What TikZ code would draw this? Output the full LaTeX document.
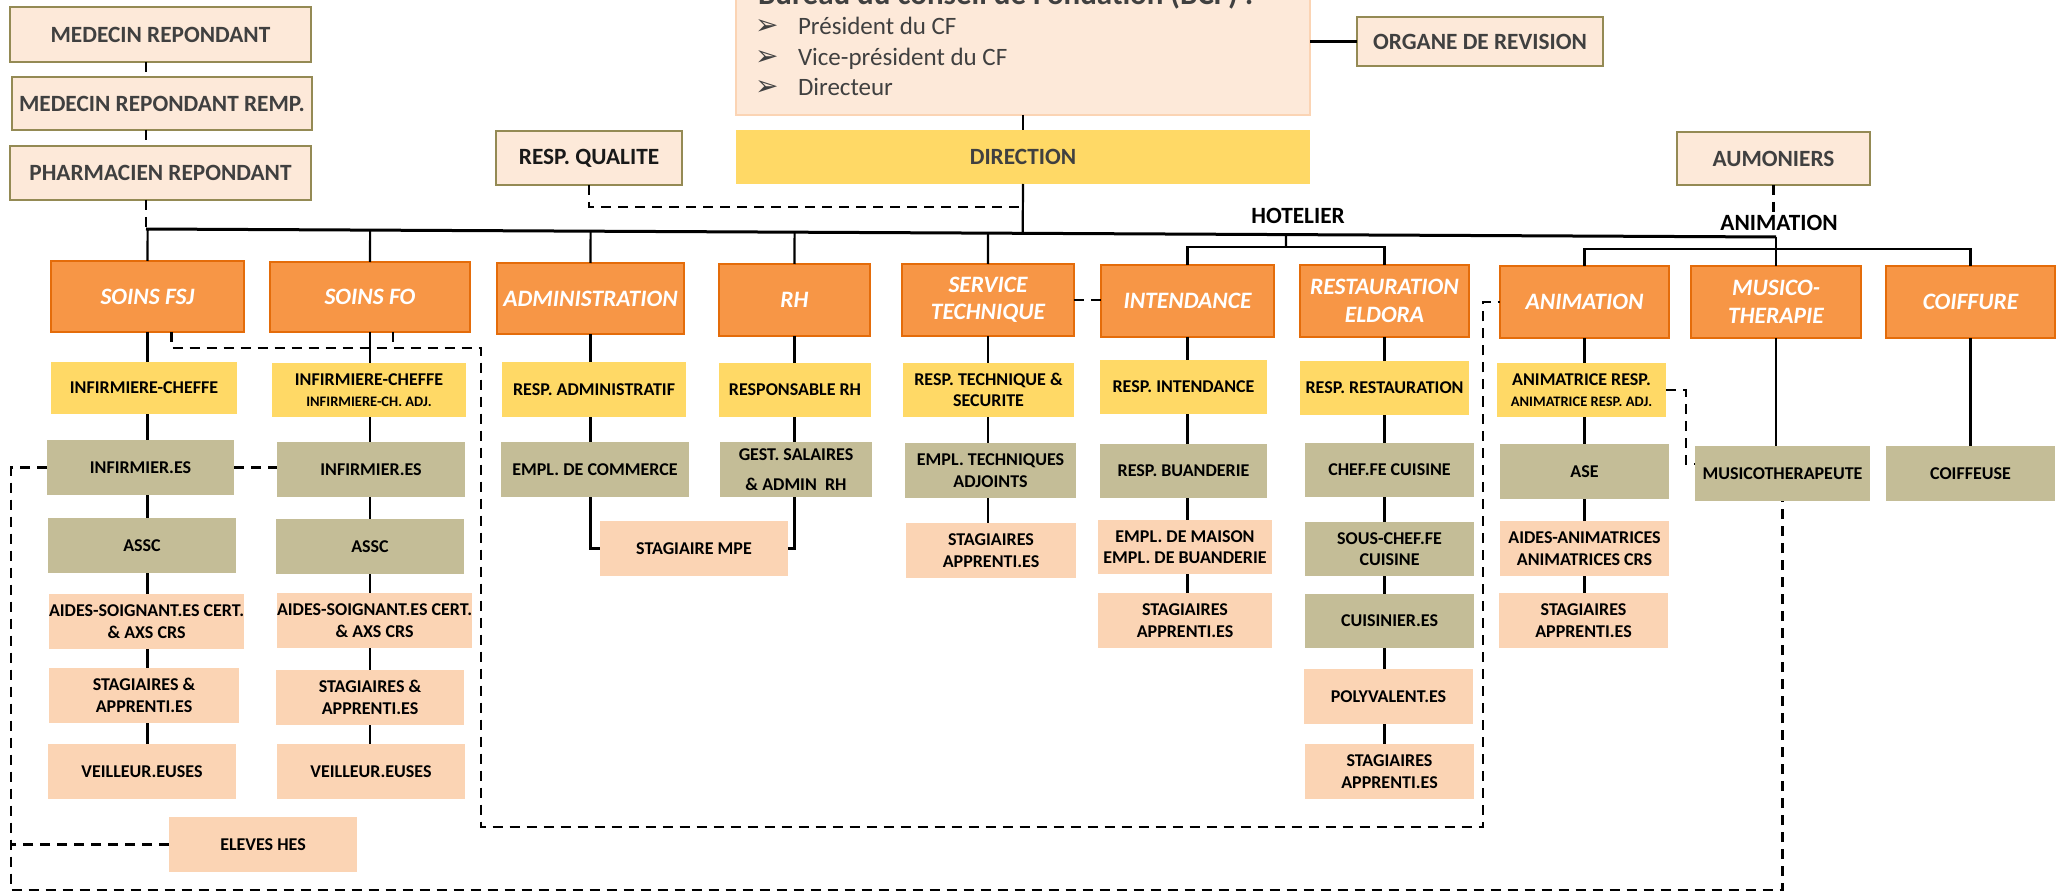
\documentclass[tikz,border=0pt]{standalone}
\usepackage{fontspec}
\setmainfont{Carlito}
\newfontfamily\dejavu{DejaVu Sans}
\usetikzlibrary{calc}
\definecolor{orfill}{HTML}{F79646}
\definecolor{ordraw}{HTML}{E46C0A}
\definecolor{ylw}{HTML}{FFD966}
\definecolor{khaki}{HTML}{C4BD97}
\definecolor{peach}{HTML}{FBD4B4}
\definecolor{pale}{HTML}{FDE9D9}
\definecolor{olive}{HTML}{948A54}
\definecolor{dgray}{HTML}{404040}
\newcommand{\fntO}{\fontsize{23.5}{27.5}\selectfont\bfseries\itshape}
\newcommand{\fntT}{\fontsize{23.3}{27}\selectfont\bfseries}
\newcommand{\fntS}{\fontsize{18}{21.5}\selectfont\bfseries}
\newcommand{\fntXS}{\fontsize{14.5}{17}\selectfont\bfseries}
\newcommand{\fntB}{\fontsize{25}{29}\selectfont}
\newcommand{\fntTitle}{\fontsize{31}{36}\selectfont\bfseries}
\newcommand{\orgbox}[7]{\node[#2,anchor=north west,minimum width={(#5)-(#3)},minimum height={(#6)-(#4)}] (#1) at (#3,#4) {#7};}
\begin{document}
\begin{tikzpicture}[x=1pt,y=-1pt,
  every node/.style={inner sep=0pt,outer sep=0pt,align=center},
  topbox/.style={fill=pale,draw=olive,line width=2.5pt,font=\fntT,text=dgray},
  orbox/.style={fill=orfill,draw=ordraw,line width=2.5pt,font=\fntO,text=white},
  ybox/.style={fill=ylw,font=\fntS,text=black},
  kbox/.style={fill=khaki,font=\fntS,text=black},
  pbox/.style={fill=peach,font=\fntS,text=black},
  lbl/.style={font=\fntT,text=black,inner sep=1pt},
  bullet/.style={anchor=base west,font=\dejavu\fontsize{28}{30}\selectfont,text=dgray},
  btext/.style={anchor=base west,font=\fntB,text=dgray},
  conn/.style={line width=2.2pt,black},
  barline/.style={line width=3pt,black},
  dsh/.style={line width=2.5pt,black,dash pattern=on 10pt off 7pt}]
\useasboundingbox (0,0) rectangle (2062,893);
\fill[white] (0,0) rectangle (2062,893);
% top
\orgbox{mr}{topbox}{10}{7}{311}{62}{MEDECIN REPONDANT}
\orgbox{mrr}{topbox}{12}{77}{312}{130}{MEDECIN REPONDANT REMP.}
\orgbox{pr}{topbox}{10}{146}{311}{200}{PHARMACIEN REPONDANT}
\orgbox{rq}{topbox,text=black!90}{496}{131}{682}{185}{RESP. QUALITE}
\orgbox{org}{topbox}{1357}{17}{1603}{66}{ORGANE DE REVISION}
\orgbox{aum}{topbox}{1677}{132}{1870}{185}{AUMONIERS}
\orgbox{bcf}{fill=pale,draw=peach,line width=2pt}{736}{-12}{1310}{115}{}
\node[anchor=base west,font=\fntTitle,text=dgray] (bcft) at (758,5) {Bureau du conseil de Fondation (BCF) :};
\node[btext] (bl1) at (798,35) {Président du CF};
\node[btext] (bl2) at (798,66) {Vice-président du CF};
\node[btext] (bl3) at (798,96) {Directeur};
\node[bullet] (bu1) at (755,35) {➢};
\node[bullet] (bu2) at (755,66) {➢};
\node[bullet] (bu3) at (755,96) {➢};
\orgbox{dir}{fill=ylw,font=\fntT,text=dgray}{736}{130}{1310}{184}{DIRECTION}
% orange row
\orgbox{fsj}{orbox}{51}{261}{244}{332}{SOINS FSJ}
\orgbox{fo}{orbox}{270}{262}{470}{332}{SOINS FO}
\orgbox{adm}{orbox}{497}{263}{684}{334}{ADMINISTRATION}
\orgbox{rh}{orbox}{719}{264}{870}{336}{RH}
\orgbox{st}{orbox}{902}{264}{1074}{336}{SERVICE\\TECHNIQUE}
\orgbox{int}{orbox}{1101}{265}{1274}{337}{INTENDANCE}
\orgbox{rest}{orbox}{1300}{265}{1469}{337}{RESTAURATION\\ELDORA}
\orgbox{anim}{orbox}{1500}{266}{1669}{338}{ANIMATION}
\orgbox{mus}{orbox}{1691}{266}{1861}{338}{MUSICO-\\THERAPIE}
\orgbox{coif}{orbox}{1886}{266}{2055}{338}{COIFFURE}
% yellow row
\orgbox{ic1}{ybox}{51}{362}{237}{414}{INFIRMIERE-CHEFFE}
\orgbox{ic2}{ybox}{272}{363}{466}{417}{INFIRMIERE-CHEFFE\\{\fntXS INFIRMIERE-CH. ADJ.}}
\orgbox{ra}{ybox}{502}{362}{686}{417}{RESP. ADMINISTRATIF}
\orgbox{rrh}{ybox}{719}{363}{871}{417}{RESPONSABLE RH}
\orgbox{rts}{ybox}{903}{363}{1074}{417}{RESP. TECHNIQUE \&\\SECURITE}
\orgbox{ri}{ybox}{1100}{360}{1267}{414}{RESP. INTENDANCE}
\orgbox{rr}{ybox}{1300}{361}{1469}{415}{RESP. RESTAURATION}
\orgbox{ar}{ybox}{1497}{363}{1666}{417}{ANIMATRICE RESP.\\{\fntXS ANIMATRICE RESP. ADJ.}}
% khaki row
\orgbox{inf1}{kbox}{47}{440}{234}{495}{INFIRMIER.ES}
\orgbox{inf2}{kbox}{277}{442}{465}{497}{INFIRMIER.ES}
\orgbox{ec}{kbox}{501}{442}{689}{497}{EMPL. DE COMMERCE}
\orgbox{gs}{kbox}{720}{442}{872}{497}{GEST. SALAIRES\\[9pt]\& ADMIN~~RH}
\orgbox{eta}{kbox}{905}{443}{1076}{498}{EMPL. TECHNIQUES\\ADJOINTS}
\orgbox{rb}{kbox}{1100}{444}{1267}{498}{RESP. BUANDERIE}
\orgbox{cc}{kbox}{1305}{443}{1474}{497}{CHEF.FE CUISINE}
\orgbox{ase}{kbox}{1500}{444}{1669}{499}{ASE}
\orgbox{mt}{kbox}{1695}{446}{1870}{501}{MUSICOTHERAPEUTE}
\orgbox{cf}{kbox}{1886}{446}{2055}{501}{COIFFEUSE}
% row 4
\orgbox{assc1}{kbox}{48}{518}{236}{573}{ASSC}
\orgbox{assc2}{kbox}{276}{519}{464}{574}{ASSC}
\orgbox{mpe}{pbox}{600}{521}{788}{576}{STAGIAIRE MPE}
\orgbox{sta1}{pbox}{906}{523}{1076}{578}{STAGIAIRES\\APPRENTI.ES}
\orgbox{em}{pbox}{1098}{520}{1272}{574}{EMPL. DE MAISON\\EMPL. DE BUANDERIE}
\orgbox{scc}{kbox}{1305}{522}{1474}{576}{SOUS-CHEF.FE\\CUISINE}
\orgbox{aa}{pbox}{1500}{521}{1669}{576}{AIDES-ANIMATRICES\\ANIMATRICES CRS}
% row 5
\orgbox{as1}{pbox}{49}{594}{239}{649}{AIDES-SOIGNANT.ES CERT.\\\& AXS CRS}
\orgbox{as2}{pbox}{277}{593}{465}{648}{AIDES-SOIGNANT.ES CERT.\\\& AXS CRS}
\orgbox{sta2}{pbox}{1098}{593}{1272}{648}{STAGIAIRES\\APPRENTI.ES}
\orgbox{cu}{kbox}{1305}{594}{1474}{648}{CUISINIER.ES}
\orgbox{sta3}{pbox}{1499}{593}{1668}{648}{STAGIAIRES\\APPRENTI.ES}
% row 6
\orgbox{sa1}{pbox}{49}{668}{239}{723}{STAGIAIRES \&\\APPRENTI.ES}
\orgbox{sa2}{pbox}{276}{670}{464}{725}{STAGIAIRES \&\\APPRENTI.ES}
\orgbox{pv}{pbox}{1304}{669}{1473}{724}{POLYVALENT.ES}
% row 7
\orgbox{v1}{pbox}{48}{744}{236}{799}{VEILLEUR.EUSES}
\orgbox{v2}{pbox}{277}{744}{465}{799}{VEILLEUR.EUSES}
\orgbox{sta4}{pbox}{1305}{744}{1474}{799}{STAGIAIRES\\APPRENTI.ES}
\orgbox{eh}{pbox}{169}{817}{357}{872}{ELEVES HES}
% labels
\node[lbl] (hotlbl) at (1298,216) {HOTELIER};
\node[lbl] (anilbl) at (1779,223) {ANIMATION};
% main bar
\coordinate (barL) at (146,229);
\coordinate (barR) at (1776,237);
\draw[barline] (barL) -- (barR);
\foreach \n in {fsj,fo,adm,rh,st}
  \draw[conn] ($(barL)!(\n.north)!(barR)$) -- (\n.north);
\draw[conn] (bcf.south) -- (dir.north);
\draw[conn] (org.west -| bcf.east) -- (org.west);
\draw[conn] (dir.south) -- ($(barL)!(dir.south)!(barR)$);
\coordinate (hotc) at (1286,247);
\draw[conn] ($(barL)!(hotc)!(barR)$) -- (hotc);
\draw[conn] (int.north) -- (int.north |- hotc) -- (rest.north |- hotc) -- (rest.north);
\coordinate (anic) at (1776,249);
\draw[conn] (barR) -- (mus.north);
\draw[conn] (anim.north) -- (anim.north |- anic) -- (coif.north |- anic) -- (coif.north);
% columns
\foreach \c/\a/\b in {fsj/fsj/ic1,fsj/ic1/inf1,fsj/inf1/assc1,fsj/assc1/as1,fsj/as1/sa1,fsj/sa1/v1,
  fo/fo/ic2,fo/ic2/inf2,fo/inf2/assc2,fo/assc2/as2,fo/as2/sa2,fo/sa2/v2,
  adm/adm/ra,adm/ra/ec,rh/rh/rrh,rh/rrh/gs,
  st/st/rts,st/rts/eta,st/eta/sta1,
  int/int/ri,int/ri/rb,int/rb/em,int/em/sta2,
  rest/rest/rr,rest/rr/cc,rest/cc/scc,rest/scc/cu,rest/cu/pv,rest/pv/sta4,
  anim/anim/ar,anim/ar/ase,anim/ase/aa,anim/aa/sta3,
  mus/mus/mt,coif/coif/cf}
  \draw[conn] (\c.south |- \a.south) -- (\c.south |- \b.north);
\draw[conn] (adm.south |- ec.south) |- (mpe.west);
\draw[conn] (rh.south |- gs.south) |- (mpe.east);
% dashed
\draw[dsh] (mr.south -| barL) -- (mrr.north -| barL);
\draw[dsh] (mrr.south -| barL) -- (pr.north -| barL);
\draw[dsh] (pr.south -| barL) -- (barL);
\coordinate (qj) at (dir.south |- 0,207);
\draw[dsh] (rq.south) |- (qj);
\draw[dsh] (aum.south) -- (aum.south |- anilbl.north);
\draw[dsh] (st.east) -- (st.east -| int.west);
\draw[dsh] (inf1.east) -- (inf1.east -| inf2.west);
\coordinate (am) at (1686,464);
\draw[dsh] (ar.east) -| (am) -- (am -| mt.west);
\coordinate (fsjd) at ($(fsj.south)+(24,0)$);
\coordinate (fod) at ($(fo.south)+(23,0)$);
\coordinate (dA) at (481,348);
\coordinate (dB) at (481,827);
\coordinate (dC) at (1483,827);
\draw[dsh] (fsjd) |- (dA) -- (dB) -- (dC) |- (anim.west);
\draw[dsh] (fod) -- (fod |- dA);
\coordinate (bl) at (11,890);
\draw[dsh] (inf1.west) -| (bl) -- (bl -| mt.south) -- (mt.south);
\draw[dsh] (eh.west) -- (eh.west -| bl);
\end{tikzpicture}
\end{document}
